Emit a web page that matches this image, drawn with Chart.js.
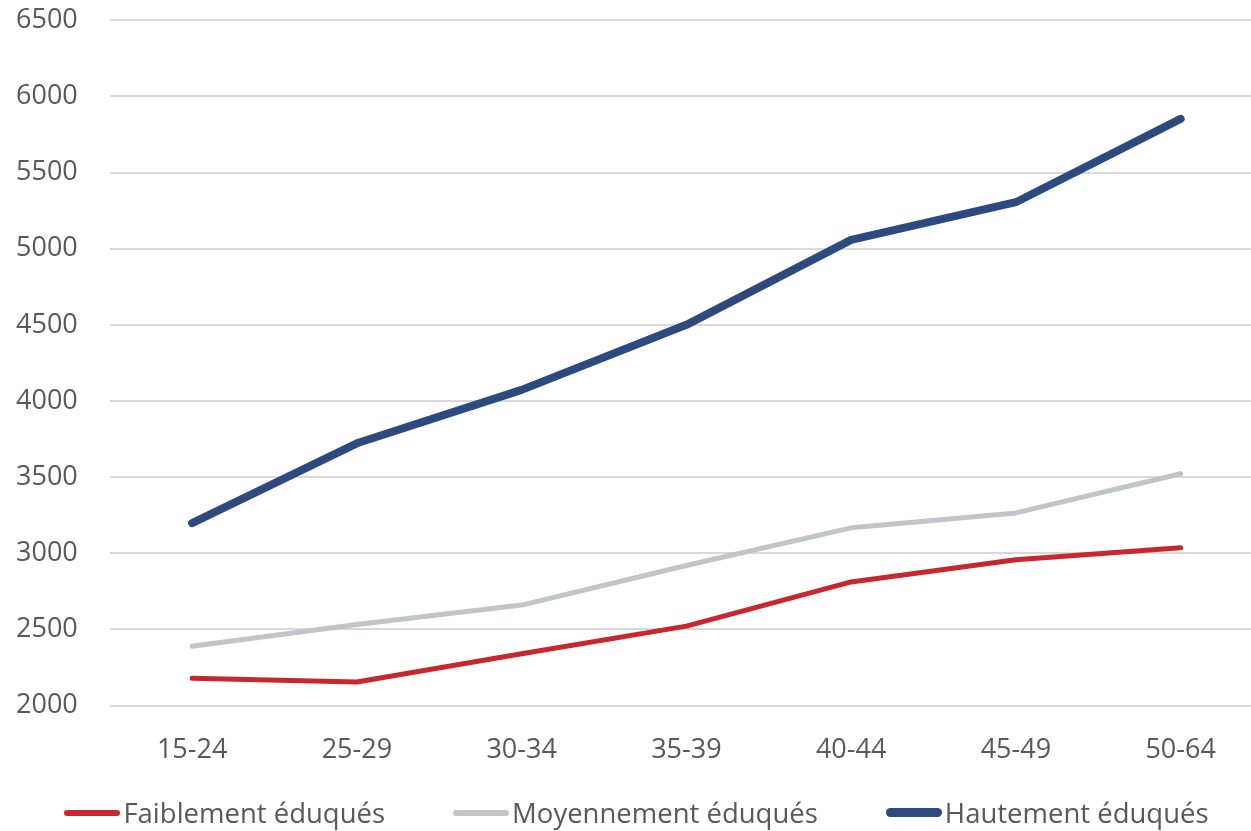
<!DOCTYPE html>
<html lang="fr">
<head>
<meta charset="utf-8">
<title>Salaires par âge et niveau d'éducation</title>
<script src="https://cdn.jsdelivr.net/npm/chart.js@4.4.1/dist/chart.umd.min.js"></script>
<style>
  html, body { margin: 0; padding: 0; background: #fff; overflow: hidden; }
  #wrap { position: relative; width: 1263px; height: 831px; }
  #legend {
    position: absolute; left: 5px; top: 794px; width: 1263px;
    display: flex; justify-content: center; gap: 68px;
    font-family: "Open Sans", sans-serif; font-size: 27.5px; color: #595959;
  }
  .item { display: flex; align-items: center; white-space: nowrap; }
  .swatch { display: inline-block; width: 56px; border-radius: 5px; margin-right: 3px; }
</style>
</head>
<body>
<div id="wrap">
  <canvas id="grafico" width="1263" height="831"></canvas>
  <div id="legend"></div>
</div>
<script>
const categories = ["15-24", "25-29", "30-34", "35-39", "40-44", "45-49", "50-64"];
const faibles = [2180, 2155, 2340, 2522, 2812, 2957, 3037];
const moyens = [2390, 2532, 2660, 2920, 3167, 3265, 3522];
const hauts = [3198, 3722, 4073, 4500, 5058, 5305, 5852];
const yTicks = [2000, 2500, 3000, 3500, 4000, 4500, 5000, 5500, 6000, 6500];

const FONT = "'Open Sans', sans-serif";
const TEXT = "#595959";

// legende HTML construite depuis les datasets
const htmlLegend = {
  id: "htmlLegend",
  afterUpdate(chart) {
    const box = document.getElementById("legend");
    box.innerHTML = chart.data.datasets.map(ds => `
      <div class="item">
        <span class="swatch" style="background:${ds.borderColor};height:${ds.borderWidth + 1}px"></span>
        <span>${ds.label}</span>
      </div>
    `).join("");
  }
};

document.addEventListener("DOMContentLoaded", () => {
  const ctx = document.getElementById("grafico").getContext("2d");
  new Chart(ctx, {
    type: "line",
    data: {
      labels: categories,
      datasets: [
        { label: "Faiblement éduqués", data: faibles, borderColor: "#C8282D", borderWidth: 5 },
        { label: "Moyennement éduqués", data: moyens, borderColor: "#BFC5C8", borderWidth: 5 },
        { label: "Hautement éduqués", data: hauts, borderColor: "#2C4A7E", borderWidth: 8 }
      ]
    },
    options: {
      responsive: false,
      animation: false,
      elements: {
        line: { tension: 0, fill: false, borderCapStyle: "round", borderJoinStyle: "round" },
        point: { radius: 0, hoverRadius: 0 }
      },
      layout: { padding: { top: 0, left: 16, right: 0, bottom: 35 } },
      plugins: {
        legend: { display: false },
        tooltip: { enabled: false }
      },
      scales: {
        x: {
          offset: true,
          grid: { display: false, drawTicks: false },
          border: { display: false },
          ticks: { color: TEXT, padding: 29, font: { family: FONT, size: 27 } }
        },
        y: {
          min: yTicks[0],
          max: yTicks[yTicks.length - 1],
          afterBuildTicks: axis => { axis.ticks = yTicks.map(v => ({ value: v })); },
          afterFit: axis => { axis.width += 24; },
          grid: { color: "#D9D9D9", lineWidth: 2, drawTicks: false },
          border: { display: false },
          ticks: {
            color: TEXT, padding: 4, crossAlign: "far", font: { family: FONT, size: 27 },
            callback: v => String(v)
          }
        }
      }
    },
    plugins: [htmlLegend]
  });
});
</script>
</body>
</html>
